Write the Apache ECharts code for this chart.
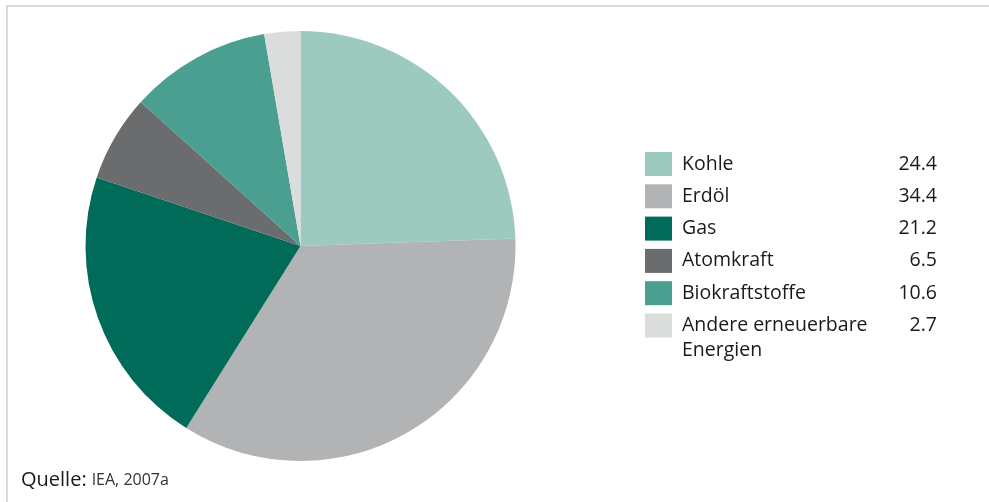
<!DOCTYPE html>
<html>
<head>
<meta charset="utf-8">
<script src="https://cdn.jsdelivr.net/npm/echarts@6/dist/echarts.min.js"></script>
<style>
  html, body { margin: 0; padding: 0; background: #fff; }
  #frame { position: absolute; left: 6px; top: 5px; width: 1000px; height: 520px;
           border-top: 2px solid #dadada; border-left: 2px solid #dadada; }
  #chart { position: absolute; left: 0; top: 0; width: 989px; height: 502px; }
</style>
</head>
<body>
<div id="frame"></div>
<div id="chart"></div>
<script>
  var categories = ['Kohle', 'Erdöl', 'Gas', 'Atomkraft', 'Biokraftstoffe', 'Andere erneuerbare'];
  var shares = [24.4, 34.4, 21.2, 6.5, 10.6, 2.7];
  var valueLabels = ['24.4', '34.4', '21.2', '6.5', '10.6', '2.7'];
  var colors = ['#9ccabf', '#b1b3b5', '#016b59', '#6a6c6e', '#4b9f91', '#dbdcdc'];

  var font = '"Open Sans", "Noto Sans", sans-serif';

  var pieData = categories.map(function(name, i) {
    return { name: name, value: shares[i], itemStyle: { color: colors[i] } };
  });

  var chart = echarts.init(document.getElementById('chart'));

  chart.setOption({
    animation: false,
    title: [{
      left: 21,
      top: 467,
      padding: 0,
      text: '{a|Quelle:} {b|IEA, 2007a}',
      textStyle: {
        fontWeight: 'normal',
        rich: {
          a: { fontFamily: font, fontSize: 20, fontWeight: 'normal', color: '#1a1a1a', lineHeight: 26 },
          b: { fontFamily: font, fontSize: 16, fontWeight: 'normal', color: '#333', lineHeight: 26 }
        }
      }
    }, {
      left: 682,
      top: 338,
      padding: 0,
      text: 'Energien',
      textStyle: { fontFamily: font, fontSize: 19.5, fontWeight: 'normal', color: '#1a1a1a', lineHeight: 24 }
    }],
    legend: {
      orient: 'vertical',
      left: 645,
      top: 152,
      padding: 0,
      icon: 'rect',
      itemWidth: 27,
      itemHeight: 24,
      itemGap: 8.3,
      selectedMode: false,
      data: categories,
      formatter: function(name) {
        var i = categories.indexOf(name);
        return '{n|' + name + '}{v|' + valueLabels[i] + '}';
      },
      textStyle: {
        rich: {
          n: { fontFamily: font, fontSize: 19.5, color: '#1a1a1a', width: 200, lineHeight: 24, padding: [0, 0, 0, 5] },
          v: { fontFamily: font, fontSize: 19.5, color: '#1a1a1a', width: 55, align: 'right', lineHeight: 24 }
        }
      }
    },
    series: [{
      type: 'pie',
      center: [300.5, 246],
      radius: 215,
      startAngle: 90,
      clockwise: true,
      label: { show: false },
      labelLine: { show: false },
      emphasis: { disabled: true },
      itemStyle: { borderWidth: 0 },
      data: pieData
    }]
  });
</script>
</body>
</html>
